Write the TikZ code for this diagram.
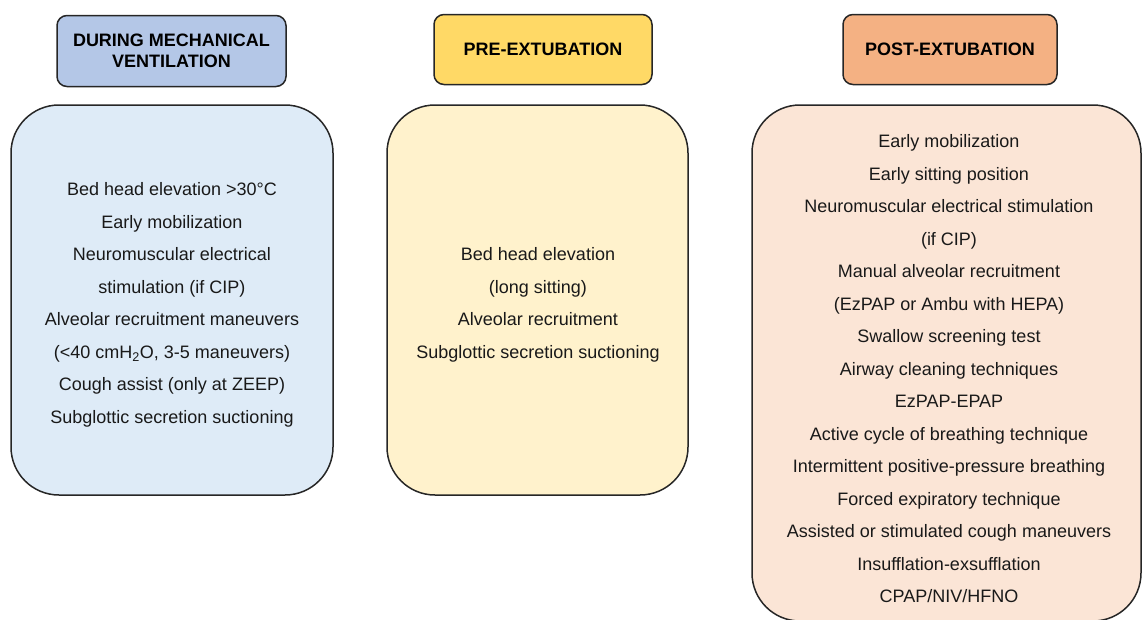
\documentclass[tikz,border=0pt]{standalone}
\usepackage{fontspec}
\setmainfont{Liberation Sans}
\definecolor{hdrA}{HTML}{B4C7E7}
\definecolor{hdrB}{HTML}{FFD966}
\definecolor{hdrC}{HTML}{F4B183}
\definecolor{boxA}{HTML}{DEEBF7}
\definecolor{boxB}{HTML}{FFF2CC}
\definecolor{boxC}{HTML}{FBE5D6}
\definecolor{edge}{HTML}{262626}
\tikzset{
  header/.style={draw=edge, line width=1.5pt, rounded corners=10pt, inner sep=0pt,
    align=center, font=\fontsize{18}{21}\selectfont\bfseries, text=black},
  bigbox/.style={draw=edge, line width=1.5pt, rounded corners=48pt, inner sep=0pt},
  items/.style={align=center, font=\fontsize{18}{32.5}\selectfont, text=black!90, inner sep=0pt}
}
\begin{document}
\begin{tikzpicture}[x=1pt,y=-1pt]
\useasboundingbox (0,0) rectangle (1144,619);
% headers
\node[header, fill=hdrA, minimum width=229pt, minimum height=71pt] (h1) at (171.5,51) {DURING MECHANICAL\\VENTILATION};
\node[header, fill=hdrB, minimum width=218pt, minimum height=70pt] (h2) at (543,49.5) {PRE-EXTUBATION};
\node[header, fill=hdrC, minimum width=214pt, minimum height=70pt] (h3) at (950,49.5) {POST-EXTUBATION};
% boxes
\node[bigbox, fill=boxA, minimum width=322pt, minimum height=390pt] (b1) at (172,300) {};
\node[bigbox, fill=boxB, minimum width=301pt, minimum height=390pt] (b2) at (537.5,300) {};
\node[bigbox, fill=boxC, minimum width=389pt, minimum height=516pt] (b3) at (946.5,363) {};
% texts
\node[items] (t1) at (172,305) {Bed head elevation >30°C\\Early mobilization\\Neuromuscular electrical\\stimulation (if CIP)\\Alveolar recruitment maneuvers\\(<40 cmH\textsubscript{2}O, 3-5 maneuvers)\\Cough assist (only at ZEEP)\\Subglottic secretion suctioning};
\node[items] (t2) at (538,305) {Bed head elevation\\(long sitting)\\Alveolar recruitment\\Subglottic secretion suctioning};
\node[items] (t3) at (949,369) {Early mobilization\\Early sitting position\\Neuromuscular electrical stimulation\\(if CIP)\\Manual alveolar recruitment\\(EzPAP or Ambu with HEPA)\\Swallow screening test\\Airway cleaning techniques\\EzPAP-EPAP\\Active cycle of breathing technique\\Intermittent positive-pressure breathing\\Forced expiratory technique\\Assisted or stimulated cough maneuvers\\Insufflation-exsufflation\\CPAP/NIV/HFNO};
\end{tikzpicture}
\end{document}
